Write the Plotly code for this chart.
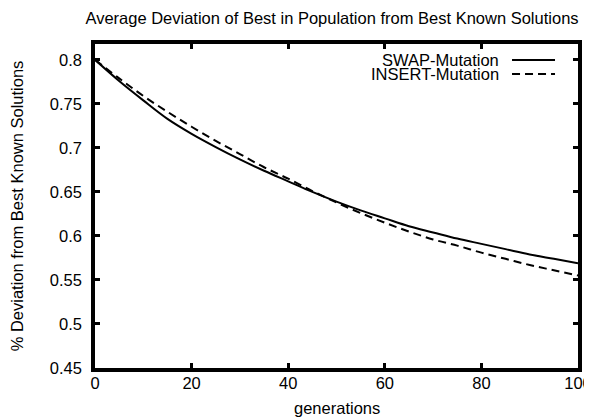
import plotly.graph_objects as go

generations = [0, 5, 10, 15, 20, 25, 30, 35, 40, 45, 50, 55, 60, 65, 70, 75, 80, 85, 90, 95, 100]
swap_mutation = [0.800, 0.776, 0.754, 0.733, 0.716, 0.701, 0.687, 0.674, 0.662, 0.650, 0.639,
                 0.629, 0.620, 0.611, 0.604, 0.597, 0.591, 0.585, 0.579, 0.574, 0.569]
insert_mutation = [0.800, 0.779, 0.759, 0.741, 0.724, 0.708, 0.693, 0.678, 0.665, 0.651, 0.638,
                   0.626, 0.615, 0.605, 0.596, 0.589, 0.581, 0.574, 0.567, 0.561, 0.555]
series_names = ["SWAP-Mutation", "INSERT-Mutation"]
x_ticks = [0, 20, 40, 60, 80, 100]
y_ticks = [0.45, 0.5, 0.55, 0.6, 0.65, 0.7, 0.75, 0.8]
y_tick_labels = ["0.45", "0.5", "0.55", "0.6", "0.65", "0.7", "0.75", "0.8"]
x_title = "generations"
y_title = "% Deviation from Best Known Solutions"
chart_title = "Average Deviation of Best in Population from Best Known Solutions"

FONT = "Liberation Sans, Arial, Helvetica, sans-serif"
FS = 16.5
DASH = "8px,5px"

fig = go.Figure()
fig.add_trace(go.Scatter(x=generations, y=swap_mutation, mode="lines", name=series_names[0],
                         line=dict(color="black", width=2, shape="spline"), showlegend=False))
fig.add_trace(go.Scatter(x=generations, y=insert_mutation, mode="lines", name=series_names[1],
                         line=dict(color="black", width=2, dash=DASH, shape="spline"), showlegend=False))

# gnuplot-style key: text right-aligned, sample line on the right
key_rows = [0.9506, 0.9074]
key_styles = ["solid", DASH]
for name, yy, dash in zip(series_names, key_rows, key_styles):
    fig.add_annotation(x=0.8385, y=yy, xref="paper", yref="paper", text=name, showarrow=False,
                       xanchor="right", yanchor="middle", borderpad=0,
                       font=dict(family=FONT, size=FS, color="black"))
    fig.add_shape(type="line", xref="paper", yref="paper", x0=0.8634, x1=0.9524, y0=yy, y1=yy,
                  line=dict(color="black", width=2, dash=dash))

# x-axis title placed below the tick labels
fig.add_annotation(x=0.5, y=-40 / 324, xref="paper", yref="paper", text=x_title, showarrow=False,
                   xanchor="center", yanchor="middle", borderpad=0,
                   font=dict(family=FONT, size=FS, color="black"))

axis_common = dict(showline=True, linecolor="black", linewidth=3.5, mirror="ticks", ticks="inside",
                   ticklen=5, tickwidth=2.5, tickcolor="black", showgrid=False, zeroline=False,
                   automargin=False, tickfont=dict(family=FONT, size=FS, color="black"))

fig.update_xaxes(range=[0, 100], tickvals=x_ticks, ticklabelstandoff=-3, **axis_common)
fig.update_yaxes(range=[0.45, 0.818], tickvals=y_ticks, ticktext=y_tick_labels,
                 title=dict(text=y_title, font=dict(family=FONT, size=FS, color="black"), standoff=32),
                 ticklabelstandoff=6, **axis_common)

# the page adds an 8px body margin, so the figure is 8px smaller on each side
fig.update_layout(
    width=584, height=412,
    margin=dict(l=87, r=14, t=36, b=52),
    paper_bgcolor="white", plot_bgcolor="white",
    title=dict(text=chart_title,
               x=324 / 584, xanchor="center", y=1 - 10 / 412, yanchor="middle", yref="container",
               font=dict(family=FONT, size=FS, color="black")),
    showlegend=False,
)

fig.write_html("out.html")
